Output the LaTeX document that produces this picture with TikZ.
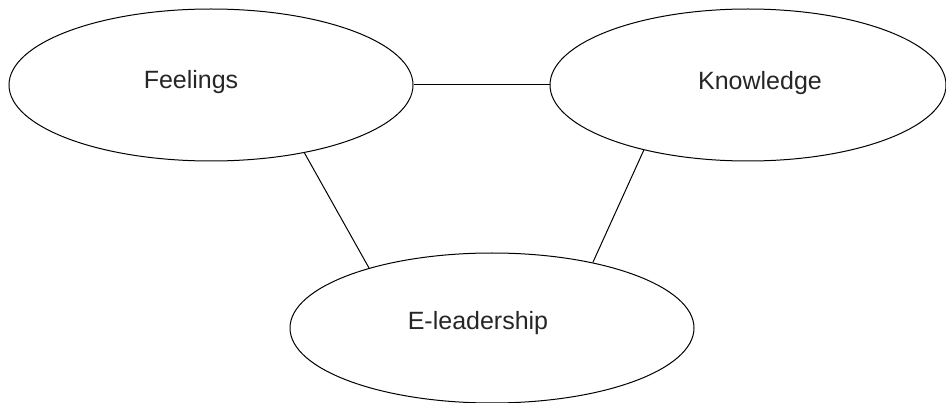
\documentclass[tikz,border=0pt]{standalone}
\usepackage{fontspec}
\setmainfont{Liberation Sans}
\usetikzlibrary{shapes.geometric}
\begin{document}
\begin{tikzpicture}[x=1pt,y=1pt,
  oval/.style={draw=black, line width=1pt, ellipse, inner sep=0pt},
  lbl/.style={font=\fontsize{25}{29}\selectfont, text=black!85},
  link/.style={draw=black, line width=1pt}]
\useasboundingbox (0,0) rectangle (946,402);
\node[oval, minimum width=404pt, minimum height=152pt] (F) at (211,317) {};
\node[oval, minimum width=396pt, minimum height=152pt] (K) at (748,317) {};
\node[oval, minimum width=404pt, minimum height=150pt] (E) at (492,74) {};
\node[lbl] (Ft) at (191,320) {Feelings};
\node[lbl] (Kt) at (760,319) {Knowledge};
\node[lbl] (Et) at (478,79) {E-leadership};
\draw[link] (F.east) -- (K.west);
\draw[link] (F.-36.4) -- (E.154.9);
\draw[link] (K.-148.4) -- (E.33.1);
\end{tikzpicture}
\end{document}
